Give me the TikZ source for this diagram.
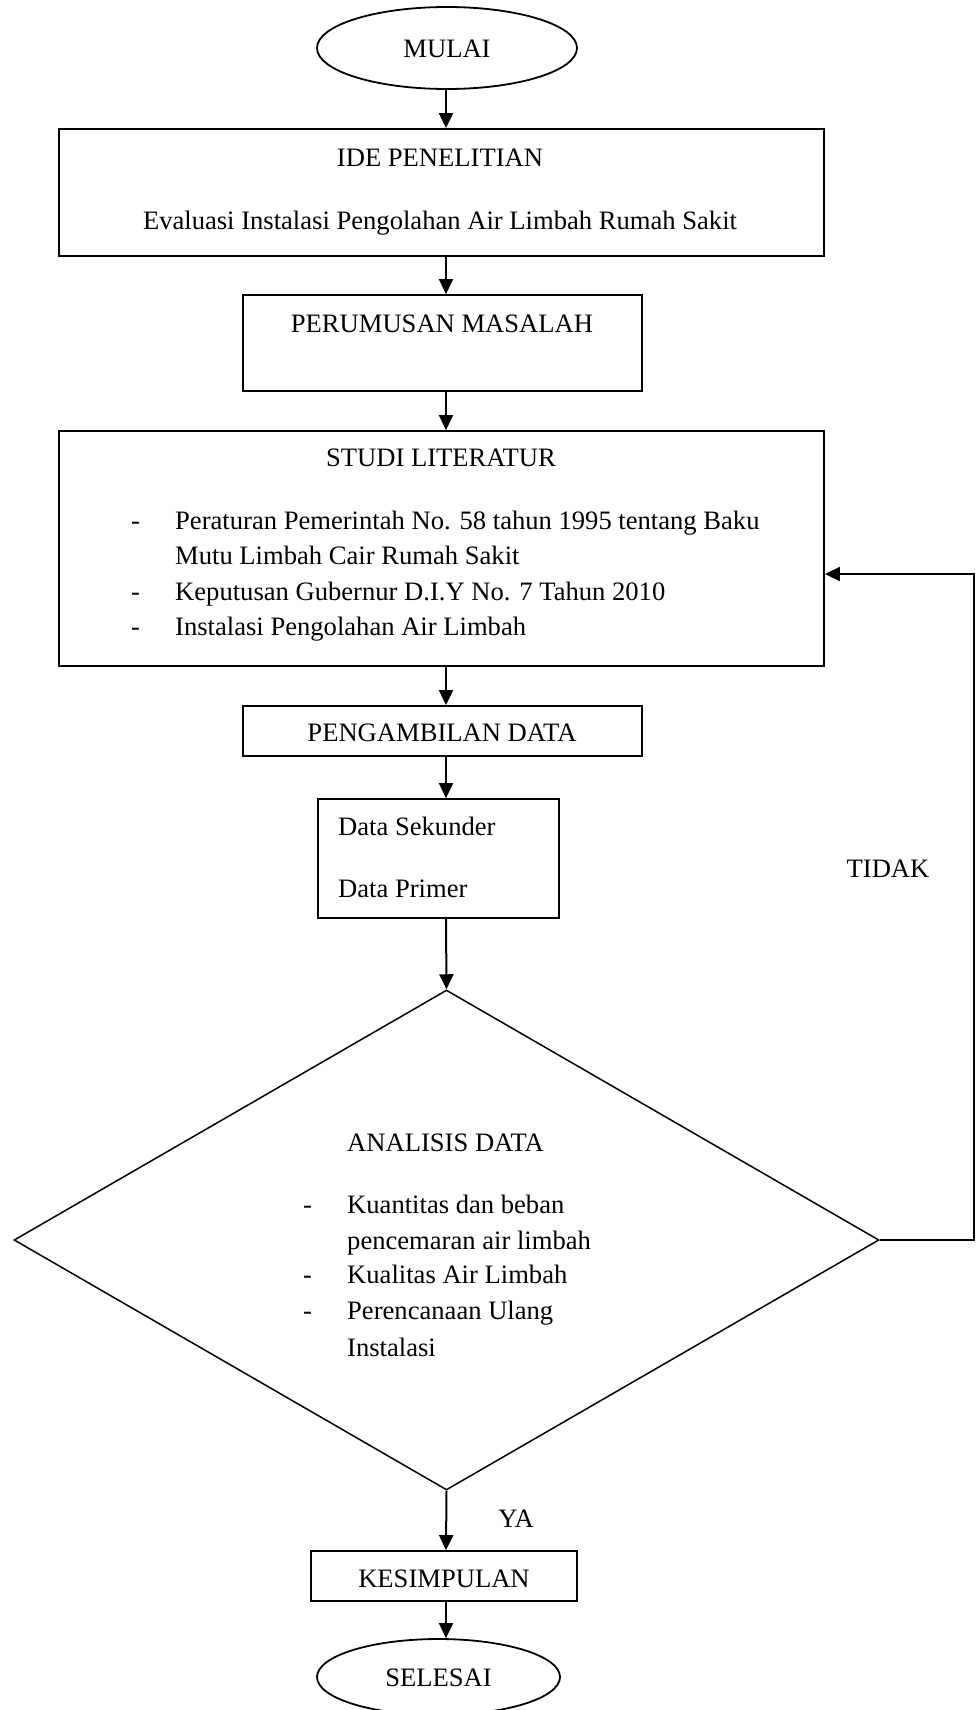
\documentclass[tikz,border=0pt]{standalone}
\usepackage{fontspec}
\setmainfont{Liberation Serif}
\usetikzlibrary{shapes.geometric,arrows.meta}
\begin{document}
\begin{tikzpicture}[x=1pt,y=-1pt,
  box/.style={draw, line width=1.8pt, inner sep=0pt},
  oval/.style={draw, ellipse, line width=1.8pt, inner sep=0pt},
  decision/.style={draw, diamond, line width=1.5pt, inner sep=0pt},
  arr/.style={line width=2pt, -{Triangle[length=15pt,width=14pt]}},
  fbline/.style={line width=1.8pt, -{Triangle[length=15pt,width=14pt]}},
  lbl/.style={inner sep=0pt, anchor=base, font=\fontsize{26.6}{35.6}\selectfont},
  lblw/.style={inner sep=0pt, anchor=base west, font=\fontsize{26.6}{35.6}\selectfont}
]
\useasboundingbox (0,0) rectangle (975,1710);
\fill[white] (0,0) rectangle (975,1710);
\coordinate (col) at (446,0);

% shapes
\node[oval, minimum width=260pt, minimum height=82pt] (mulai) at (447,48) {};
\node[box, minimum width=765pt, minimum height=127pt] (ide) at (441.5,192.5) {};
\node[box, minimum width=399pt, minimum height=96pt] (rumus) at (442.5,343) {};
\node[box, minimum width=765pt, minimum height=235pt] (studi) at (441.5,548.5) {};
\node[box, minimum width=399pt, minimum height=50pt] (ambil) at (442.5,731) {};
\node[box, minimum width=241pt, minimum height=119pt] (data) at (438.5,858.5) {};
\node[decision, minimum width=865pt, minimum height=500pt] (dia) at (446.5,1240) {};
\node[box, minimum width=266pt, minimum height=50pt] (simpul) at (444,1576) {};
\node[oval, minimum width=243pt, minimum height=76pt] (selesai) at (438.5,1677) {};

% texts
\node[lbl] (tmulai) at (447,57) {MULAI};
\node[lbl] (tide1) at (440,166) {IDE PENELITIAN};
\node[lbl] (tide2) at (440,229) {Evaluasi Instalasi Pengolahan Air Limbah Rumah Sakit};
\node[lbl] (trumus) at (442,332) {PERUMUSAN MASALAH};
\node[lbl] (tstudi) at (441,466) {STUDI LITERATUR};
\node[lblw] (sd1) at (131,529) {-};
\node[lblw] (st1) at (175,529) {Peraturan Pemerintah No. 58 tahun 1995 tentang Baku};
\node[lblw] (st1b) at (175,564) {Mutu Limbah Cair Rumah Sakit};
\node[lblw] (sd2) at (131,600) {-};
\node[lblw] (st2) at (175,600) {Keputusan Gubernur D.I.Y No. 7 Tahun 2010};
\node[lblw] (sd3) at (131,635) {-};
\node[lblw] (st3) at (175,635) {Instalasi Pengolahan Air Limbah};
\node[lbl] (tambil) at (442,741) {PENGAMBILAN DATA};
\node[lblw] (tdata1) at (338,835) {Data Sekunder};
\node[lblw] (tdata2) at (338,897) {Data Primer};
\node[lblw] (tana) at (347,1151) {ANALISIS DATA};
\node[lblw] (ad1) at (303,1213) {-};
\node[lblw] (at1) at (347,1213) {Kuantitas dan beban};
\node[lblw] (at1b) at (347,1249) {pencemaran air limbah};
\node[lblw] (ad2) at (303,1283) {-};
\node[lblw] (at2) at (347,1283) {Kualitas Air Limbah};
\node[lblw] (ad3) at (303,1319) {-};
\node[lblw] (at3) at (347,1319) {Perencanaan Ulang};
\node[lblw] (at3b) at (347,1356) {Instalasi};
\node[lbl] (ttidak) at (888,877) {TIDAK};
\node[lbl] (tya) at (516,1527) {YA};
\node[lbl] (tsimpul) at (444,1587) {KESIMPULAN};
\node[lbl] (tselesai) at (438.5,1686) {SELESAI};

% connectors
\draw[arr] (mulai.south -| col) -- (ide.north -| col);
\draw[arr] (ide.south -| col) -- (rumus.north -| col);
\draw[arr] (rumus.south -| col) -- (studi.north -| col);
\draw[arr] (studi.south -| col) -- (ambil.north -| col);
\draw[arr] (ambil.south -| col) -- (data.north -| col);
\draw[arr] (data.south -| col) -- (dia.north);
\draw[arr] (dia.south) -- (simpul.north -| col);
\draw[arr] (simpul.south -| col) -- (selesai.north -| col);
\coordinate (fb) at (974,574);
\draw[fbline] (dia.east) -| (fb) -- (studi.east |- fb);
\end{tikzpicture}
\end{document}
